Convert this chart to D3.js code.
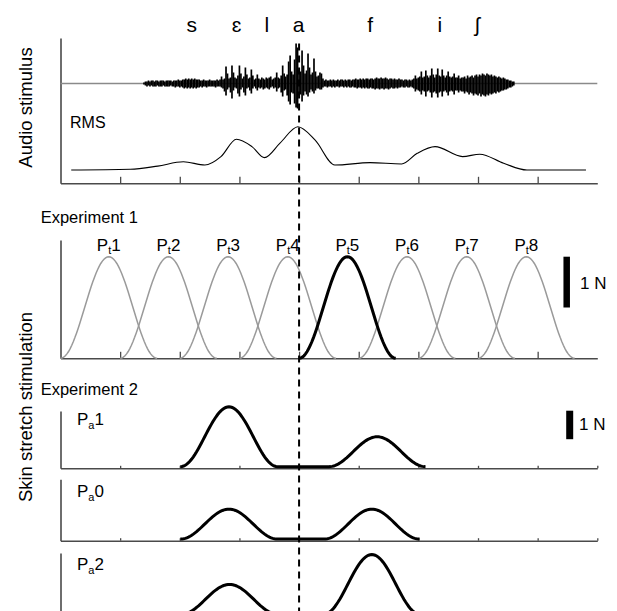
<!DOCTYPE html>
<html><head><meta charset="utf-8">
<script src="https://cdn.jsdelivr.net/npm/d3@7"></script>
<style>
body{margin:0;background:#fff}
svg{display:block}
text{font-family:"Liberation Sans",Arial,Helvetica,"DejaVu Sans",sans-serif;fill:#000}
</style>
</head><body>
<svg id="c" width="617" height="611"></svg>
<script>
// ---------------- DATA ----------------
// time axis in arbitrary units (ticks at 1..8, axis 0..9)
const xTicks = [1,2,3,4,5,6,7,8];
const markerTime = 4.0; // dashed line (onset of /a/)

// phoneme labels
const phonemes = ["s","ɛ","l","a","f","i","ʃ"];
const phonemeTimes = [2.20,2.95,3.46,3.99,5.19,6.36,6.99];

// audio waveform envelope (a.u.), sampled from t=1.40 every 0.025
const waveStart = 1.40, waveStep = 0.025;
const sUp  = [1,2,2,3,2,3,3,2,3,3,2,3,3,3,2,3,3,3,3,2,3,3,3,4,3,3,4,4,5,4,5,4,5,4,5,4,4,4,3,3,4,3,3,3,4,3,3,3,3,4,3];
const sDn  = [1,2,3,2,3,2,3,3,3,2,3,3,3,2,3,3,3,3,2,3,3,4,3,3,4,3,4,5,4,5,4,5,4,5,4,5,4,4,3,4,3,3,4,3,3,3,3,3,4,3,3];
const eUp  = [4,7,4,5,17,10,5,6,18,11,6,5,8,18,10,5,7,16,9,5,6,14,8,4,5,9];
const eDn  = [3,4,5,8,12,6,4,9,15,7,4,5,10,13,6,4,9,12,5,4,7,10,5,3,5,7];
const lUp  = [5,4,6,5,4,6,5,6];
const lDn  = [4,5,4,6,5,4,5,6];
const aUp  = [7,4,5,6,11,6,5,8,18,10,7,9,22,28,12,9,24,40,36,14,12,33,18,10,13,30,16,9,11,25,12,7,8,11,10,5];
const aDn  = [4,3,5,4,8,5,4,9,13,7,6,12,18,21,9,10,20,24,25,12,11,18,12,8,11,13,9,6,8,10,7,5,5,6,6,4];
const fUp  = [3,4,3,3,4,3,4,3,3,4,3,4,4,3,4,3,4,4,3,4,4,5,4,4,5,4,5,4,5,5,4,5,5,4,5,6,5,5,6,5,5,6,5,4,5,5,4,5,4,4,5,4,4,3,4,4,3,4,3,4];
const fDn  = [3,3,4,3,3,4,3,4,3,3,4,3,3,4,3,4,3,4,4,3,4,4,5,4,4,5,4,5,4,5,5,4,5,5,6,5,5,6,5,5,6,5,5,6,5,4,5,5,4,5,4,4,3,4,4,3,4,4,3,4];
const iUp  = [5,8,5,6,7,12,6,7,13,8,6,8,15,9,6,9,15,8,7,14,8,6,8,12,7,6,7,10,6,6,8,5,6];
const iDn  = [5,8,6,7,8,11,7,8,13,8,7,9,14,9,8,10,14,9,8,13,8,7,9,12,8,7,8,11,7,7,9,7,8];
const shUp = [6,7,5,8,6,7,8,6,8,9,7,9,8,10,9,8,10,9,8,9,7,8,7,6,7,6,5,6,5,4,4,3,3,2,2];
const shDn = [8,10,8,9,11,9,10,12,10,11,12,10,13,11,12,13,11,12,10,11,10,9,10,8,9,8,7,7,6,6,5,4,4,3,2];

// RMS envelope
const rmsTimes  = [0.18,1.17,1.63,2.06,2.42,2.69,2.95,3.21,3.42,3.68,3.98,4.27,4.60,5.19,5.72,5.98,6.28,6.74,7.03,7.43,7.82,8.81];
const rmsValues = [0,0.016,0.09,0.19,0.115,0.31,0.71,0.54,0.285,0.62,1.0,0.69,0.115,0.17,0.14,0.385,0.54,0.31,0.365,0.155,0,0];

// Experiment 1: eight pulses (N)
const exp1Labels = ["1","2","3","4","5","6","7","8"];
const exp1Onsets = [0,1,2,3,4,5,6,7];
const exp1Width = 1.62;
const exp1Amp = 2.0;
const exp1Highlight = 4; // index of Pt5

// Experiment 2: two pulses per condition (N)
const exp2Labels = ["1","0","2"];
const exp2Onsets = [[2.01,4.50],[2.01,4.42],[2.02,4.41]];
const exp2Amps   = [[2.1,1.05],[1.05,1.05],[1.05,2.1]];
const exp2Widths = [[1.63,1.62],[1.63,1.6],[1.63,1.62]];

// ---------------- DRAW ----------------
const svg = d3.select("#c");
const x = d3.scaleLinear().domain([0,9]).range([60.5,597.3]);
const axisColor = "#4a4a4a";

function drawAxes(top, bottom, tickLen, ticks){
  const g = svg.append("g").attr("transform",`translate(0,${bottom})`)
    .call(d3.axisTop(x).tickValues(ticks).tickSize(tickLen).tickSizeOuter(0).tickFormat(""));
  g.select(".domain").attr("stroke",axisColor).attr("stroke-width",1.6);
  g.selectAll(".tick line").attr("stroke",axisColor).attr("stroke-width",1.3);
  const yy = d3.scaleLinear().range([bottom, top]);
  const gy = svg.append("g").attr("transform",`translate(${x(0)},0)`)
    .call(d3.axisLeft(yy).tickValues([]).tickSizeOuter(0));
  gy.select(".domain").attr("stroke",axisColor).attr("stroke-width",1.6);
}

function pulse(onset, width, amp){
  const pts = [];
  const n = 60;
  for(let k=0;k<=n;k++){
    const t = k/n;
    pts.push([onset + t*width, amp*(1-Math.cos(2*Math.PI*t))/2]);
  }
  return pts;
}

// ---- Top panel
drawAxes(38, 183.3, 6.5, xTicks);
const yWave = d3.scaleLinear().domain([-40,40]).range([123.5,43.5]);
svg.append("line").attr("x1",x(0)).attr("x2",x(9)).attr("y1",yWave(0)).attr("y2",yWave(0))
  .attr("stroke","#8a8a8a").attr("stroke-width",1.6);
const ups = [].concat(sUp,eUp,lUp,aUp,fUp,iUp,shUp);
const dns = [].concat(sDn,eDn,lDn,aDn,fDn,iDn,shDn);
const wave = ups.map((u,i)=>({t: waveStart + i*waveStep, up:u, dn:dns[i]}));
svg.append("g").selectAll("line").data(wave).join("line")
  .attr("x1",d=>x(d.t)).attr("x2",d=>x(d.t))
  .attr("y1",d=>yWave(d.up)).attr("y2",d=>yWave(-d.dn))
  .attr("stroke","#000").attr("stroke-width",1.7);

const yRms = d3.scaleLinear().domain([0,1]).range([170,126.7]);
svg.append("path").datum(rmsTimes.map((t,i)=>[t,rmsValues[i]]))
  .attr("d", d3.line().x(d=>x(d[0])).y(d=>yRms(d[1])).curve(d3.curveMonotoneX))
  .attr("fill","none").attr("stroke","#000").attr("stroke-width",1.1);

svg.append("text").attr("x",70).attr("y",128.3).attr("font-size",16).text("RMS");

svg.append("g").selectAll("text").data(phonemes).join("text")
  .attr("x",(d,i)=>x(phonemeTimes[i])).attr("y",31.5)
  .attr("text-anchor","middle").attr("font-size",21).text(d=>d);

// ---- Experiment 1
drawAxes(240, 358.3, 6.5, xTicks);
const yE1 = d3.scaleLinear().domain([0,2]).range([358.3,256.7]);
const line1 = d3.line().x(d=>x(d[0])).y(d=>yE1(d[1]));
svg.append("g").selectAll("path").data(exp1Onsets.filter((d,i)=>i!==exp1Highlight)).join("path")
  .attr("d",d=>line1(pulse(d,exp1Width,exp1Amp)))
  .attr("fill","none").attr("stroke","#9a9a9a").attr("stroke-width",1.5);
svg.append("path").attr("d",line1(pulse(exp1Onsets[exp1Highlight],exp1Width,exp1Amp)))
  .attr("fill","none").attr("stroke","#000").attr("stroke-width",3);
const lab1 = svg.append("g").selectAll("text").data(exp1Labels).join("text")
  .attr("x",(d,i)=>x(exp1Onsets[i]+exp1Width/2)).attr("y",250.7)
  .attr("text-anchor","middle").attr("font-size",17);
lab1.append("tspan").text("P");
lab1.append("tspan").attr("font-size",11).attr("dy",3.5).text("t");
lab1.append("tspan").attr("dy",-3.5).text(d=>d);
svg.append("text").attr("x",40.7).attr("y",222.7).attr("font-size",16.5).text("Experiment 1");
// 1 N bar
svg.append("line").attr("x1",566.7).attr("x2",566.7).attr("y1",yE1(2)).attr("y2",yE1(1))
  .attr("stroke","#000").attr("stroke-width",6.5);
svg.append("text").attr("x",580).attr("y",288.5).attr("font-size",17).text("1 N");

// ---- Experiment 2
svg.append("text").attr("x",40.7).attr("y",394.9).attr("font-size",16.5).text("Experiment 2");
const exp2Panels = [{top:411,bottom:468.3,label:425},{top:479.3,bottom:540.7,label:497},{top:553,bottom:616,label:570}];
const pxPerN = 28.5;
exp2Panels.forEach((p,j)=>{
  drawAxes(p.top, p.bottom, 2.5, [1,2,3,4,5,6,7,8,9]);
  const zero = p.bottom - 1.6;
  const yE2 = d3.scaleLinear().domain([0,1]).range([zero, zero-pxPerN]);
  const pts = pulse(exp2Onsets[j][0],exp2Widths[j][0],exp2Amps[j][0])
    .concat(pulse(exp2Onsets[j][1],exp2Widths[j][1],exp2Amps[j][1]));
  svg.append("path").attr("d",d3.line().x(d=>x(d[0])).y(d=>yE2(d[1]))(pts))
    .attr("fill","none").attr("stroke","#000").attr("stroke-width",3);
  const t = svg.append("text").attr("x",77).attr("y",p.label).attr("font-size",17);
  t.append("tspan").text("P");
  t.append("tspan").attr("font-size",11).attr("dy",4).text("a");
  t.append("tspan").attr("dy",-4).text(exp2Labels[j]);
  if(j===0){
    svg.append("line").attr("x1",569.7).attr("x2",569.7).attr("y1",410.7).attr("y2",410.7+pxPerN)
      .attr("stroke","#000").attr("stroke-width",7);
    svg.append("text").attr("x",579).attr("y",430).attr("font-size",17).text("1 N");
  }
});

// ---- dashed marker
svg.append("line").attr("x1",x(markerTime)).attr("x2",x(markerTime)).attr("y1",43.5).attr("y2",611)
  .attr("stroke","#000").attr("stroke-width",2).attr("stroke-dasharray","7,5");

// ---- side titles
svg.append("text").attr("transform","translate(32,107.5) rotate(-90)")
  .attr("text-anchor","middle").attr("font-size",18.5).text("Audio stimulus");
svg.append("text").attr("transform","translate(32,407) rotate(-90)")
  .attr("text-anchor","middle").attr("font-size",18.5).text("Skin stretch stimulation");
</script>
</body></html>
